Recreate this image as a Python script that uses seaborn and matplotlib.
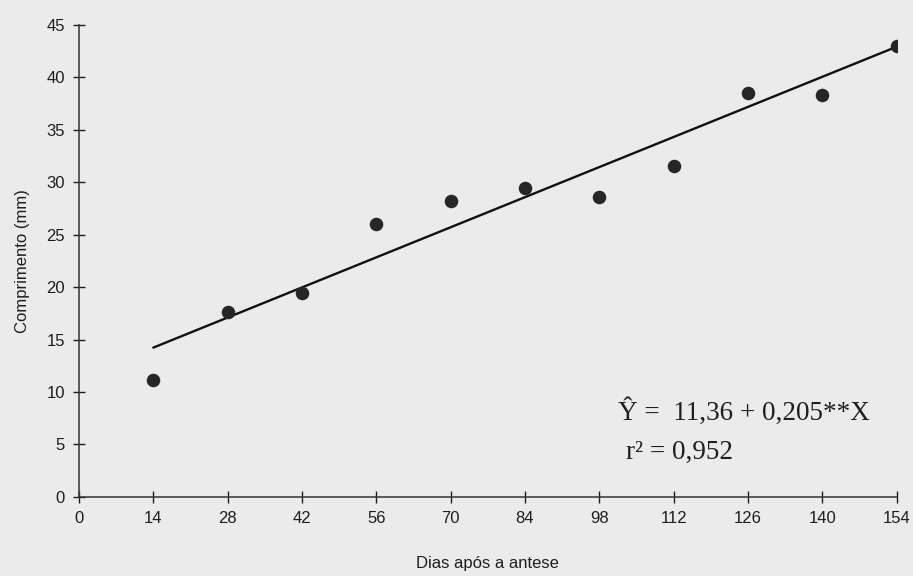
import numpy as np
import pandas as pd
import matplotlib.pyplot as plt
import seaborn as sns

# dados
dias = [14, 28, 42, 56, 70, 84, 98, 112, 126, 140, 154]
comprimento = [11.1, 17.6, 19.4, 26.0, 28.2, 29.5, 28.6, 31.6, 38.5, 38.3, 43.0]
x_ticks = [0, 14, 28, 42, 56, 70, 84, 98, 112, 126, 140, 154]
y_ticks = [0, 5, 10, 15, 20, 25, 30, 35, 40, 45]

# regressão linear informada
b0, b1 = 11.36, 0.205

df = pd.DataFrame({'dias': dias, 'comp': comprimento})
reta = pd.DataFrame({'dias': [dias[0], dias[-1]]})
reta['comp'] = b0 + b1 * reta['dias']

sns.set_style("ticks")
plt.rcParams['font.family'] = ['Liberation Sans', 'DejaVu Sans']
bg = '#ebebeb'
ink = '#1e1e1e'

fig = plt.figure(figsize=(9.13, 5.76), dpi=100, facecolor=bg)
ax = fig.add_axes([0.0865, 0.1375, 0.8955, 0.819])
ax.set_facecolor(bg)

sns.lineplot(data=reta, x='dias', y='comp', color='#111111', linewidth=1.7, ax=ax)
sns.scatterplot(data=df, x='dias', y='comp', s=95, color='#262626', edgecolor='#262626',
                linewidth=0, zorder=3, ax=ax)

ax.set_xlim(0, 154)
ax.set_ylim(0, 45)
ax.set_xticks(x_ticks)
ax.set_yticks(y_ticks)
ax.tick_params(direction='inout', length=8, width=1, colors=ink, labelsize=12, pad=6)
for s in ['top', 'right']:
    ax.spines[s].set_visible(False)
for s in ['left', 'bottom']:
    ax.spines[s].set_color('#333333')
    ax.spines[s].set_linewidth(1.1)

ax.set_xlabel('Dias após a antese', fontsize=12, color=ink, labelpad=22)
ax.set_ylabel('Comprimento (mm)', fontsize=12, color=ink, labelpad=12)

serif = ['Liberation Serif', 'DejaVu Serif']
ax.text(101.5, 7.3, 'Ŷ =  11,36 + 0,205**X', fontsize=19.5, family=serif, color=ink)
ax.text(103.0, 3.6, 'r² = 0,952', fontsize=19.5, family=serif, color=ink)

fig.savefig('out.png', dpi=100, facecolor=bg)
